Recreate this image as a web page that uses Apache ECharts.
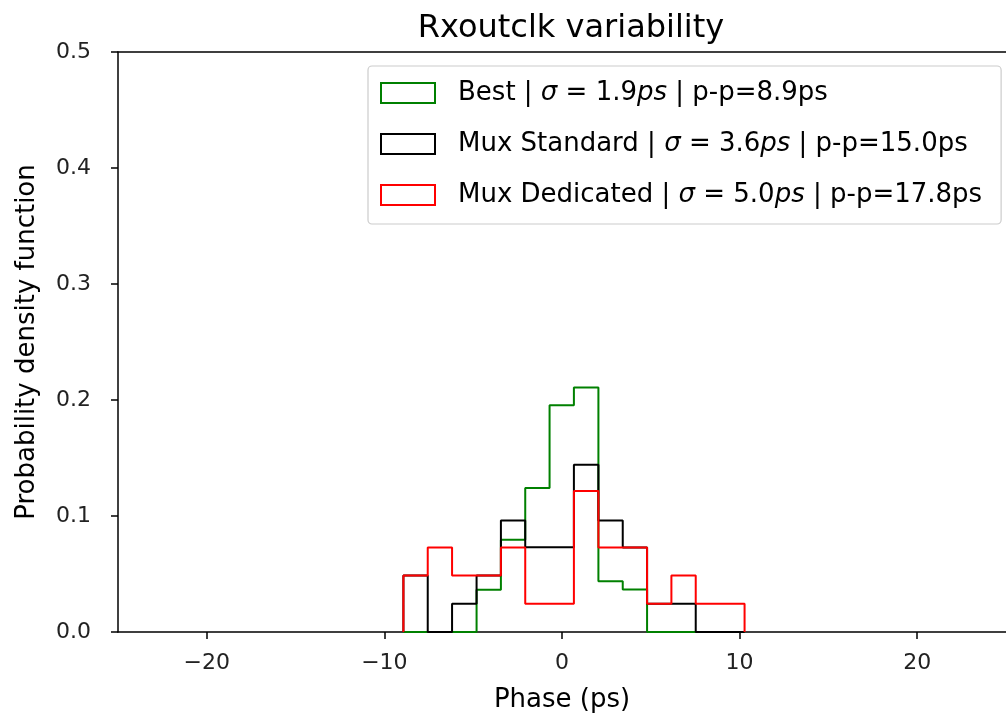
<!DOCTYPE html>
<html><head><meta charset="utf-8">
<script src="https://cdn.jsdelivr.net/npm/echarts@6/dist/echarts.min.js"></script>
<style>html,body{margin:0;padding:0;background:#fff}#c{width:1006px;height:718px}</style>
</head><body><div id="c"></div>
<script>
// Histogram bin edges (ps) and density values
const binEdges = [-8.93, -7.56, -6.19, -4.81, -3.44, -2.07, -0.70, 0.67, 2.05, 3.42, 4.79, 6.16, 7.53, 8.91, 10.28];
const bestDensity = [0, 0, 0, 0.0365, 0.0796, 0.1241, 0.1954, 0.2107, 0.0438, 0.0366, 0, 0, 0, 0];
const muxStandardDensity = [0.0486, 0, 0.0243, 0.0486, 0.0962, 0.0731, 0.0731, 0.1441, 0.0962, 0.0729, 0.0243, 0.0243, 0, 0];
const muxDedicatedDensity = [0.0486, 0.0729, 0.0486, 0.0486, 0.0729, 0.0243, 0.0243, 0.1215, 0.0729, 0.0729, 0.0243, 0.0486, 0.0243, 0.0243];
const seriesNames = ['Best', 'Mux Standard', 'Mux Dedicated'];
const legendSigma = ['1.9', '3.6', '5.0'];
const legendPeakPeak = ['8.9', '15.0', '17.8'];
const xTicks = [-20, -10, 0, 10, 20];
const yTicks = [0, 0.1, 0.2, 0.3, 0.4, 0.5];

const FONT = 'DejaVu Sans';
const colors = ['#008000', '#000000', '#ff0000'];
const densities = [bestDensity, muxStandardDensity, muxDedicatedDensity];

function stepPoints(edges, dens) {
  const pts = [[edges[0], 0]];
  for (let i = 0; i < dens.length; i++) {
    pts.push([edges[i], dens[i]]);
    pts.push([edges[i + 1], dens[i]]);
  }
  pts.push([edges[edges.length - 1], 0]);
  return pts;
}

const chart = echarts.init(document.getElementById('c'), null, {renderer: 'canvas'});
const axisLineStyle = {color: '#000', width: 1.5};
const option = {
  animation: false,
  backgroundColor: '#fff',
  title: {
    text: 'Rxoutclk variability',
    left: 566, top: 8, textAlign: 'center',
    textStyle: {fontFamily: FONT, fontSize: 32, fontWeight: 'normal', color: '#000'}
  },
  grid: {left: 118, top: 52, width: 896, height: 581, containLabel: false},
  xAxis: [{
    type: 'value', min: -25, max: 25, position: 'bottom',
    name: 'Phase (ps)', nameLocation: 'middle', nameGap: 55,
    nameTextStyle: {fontFamily: FONT, fontSize: 26, color: '#000'},
    axisLine: {show: true, onZero: false, lineStyle: axisLineStyle},
    axisTick: {show: true, length: 7, lineStyle: axisLineStyle, customValues: xTicks},
    axisLabel: {fontFamily: FONT, fontSize: 22, color: '#222', margin: 20, customValues: xTicks,
      formatter: v => (v < 0 ? '\u2212' + Math.abs(v) : String(v))},
    splitLine: {show: false}
  }, {
    type: 'value', min: -25, max: 25, position: 'top',
    axisLine: {show: true, onZero: false, lineStyle: axisLineStyle},
    axisTick: {show: false}, axisLabel: {show: false}, splitLine: {show: false}
  }],
  yAxis: {
    type: 'value', min: 0, max: 0.5, interval: 0.1, position: 'left',
    name: 'Probability density function', nameLocation: 'middle', nameGap: 78,
    nameTextStyle: {fontFamily: FONT, fontSize: 26, color: '#000'},
    axisLine: {show: true, onZero: false, lineStyle: axisLineStyle},
    axisTick: {show: true, length: 7, lineStyle: axisLineStyle, customValues: yTicks},
    axisLabel: {fontFamily: FONT, fontSize: 22, color: '#222', margin: 27, customValues: yTicks,
      formatter: v => v.toFixed(1)},
    splitLine: {show: false}
  },
  legend: {
    orient: 'vertical', left: 368, top: 66,
    padding: [12, 19, 14, 12],
    itemGap: 21, itemWidth: 54, itemHeight: 20,
    backgroundColor: 'rgba(255,255,255,0.8)',
    borderColor: '#cccccc', borderWidth: 1.2, borderRadius: 4,
    selectedMode: false,
    data: seriesNames.map((n, i) => ({
      name: n, icon: 'rect',
      itemStyle: {color: 'transparent', borderColor: colors[i], borderWidth: 2}
    })),
    formatter: name => {
      const i = seriesNames.indexOf(name);
      return '{sp|}' + name + ' | {i|\u03c3} = ' + legendSigma[i] + '{i|ps} | p-p=' + legendPeakPeak[i] + 'ps';
    },
    textStyle: {
      fontFamily: FONT, fontSize: 26, color: '#000', lineHeight: 30,
      rich: {
        sp: {width: 18},
        i: {fontFamily: FONT, fontSize: 26, fontStyle: 'italic', color: '#000', lineHeight: 30}
      }
    }
  },
  series: seriesNames.map((n, i) => ({
    name: n, type: 'line', xAxisIndex: 0,
    data: stepPoints(binEdges, densities[i]),
    showSymbol: false, symbol: 'none',
    lineStyle: {color: colors[i], width: 2},
    itemStyle: {color: colors[i]},
    clip: true, z: 2 + i
  }))
};
chart.setOption(option);
</script></body></html>
